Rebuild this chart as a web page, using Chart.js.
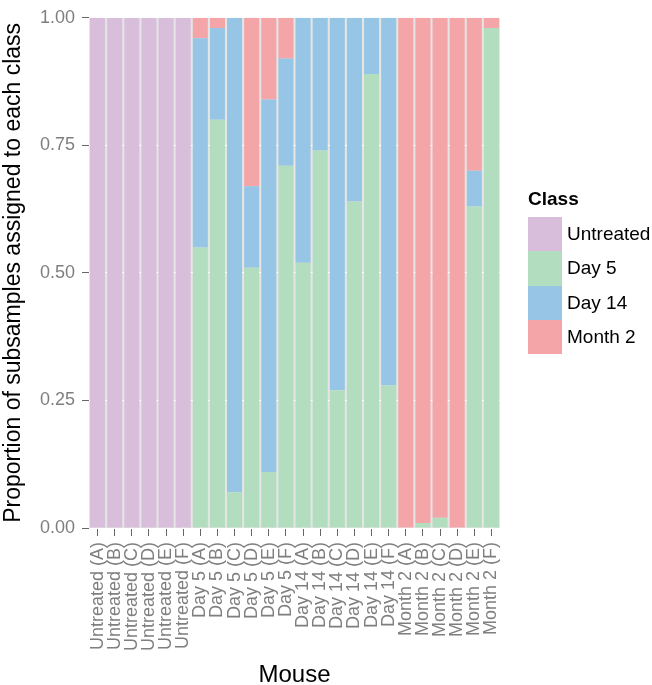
<!DOCTYPE html>
<html>
<head>
<meta charset="utf-8">
<script src="https://cdn.jsdelivr.net/npm/chart.js@4/dist/chart.umd.min.js"></script>
<style>
  html, body { margin: 0; padding: 0; background: #fff; }
  #wrap { position: relative; width: 652px; height: 685px; }
  #legend { position: absolute; left: 528px; top: 187px; font-family: "Liberation Sans", Arial, sans-serif; }
  #legend .title { font-weight: bold; font-size: 19px; color: #000; height: 30px; line-height: 24px; }
  #legend .row { display: flex; align-items: center; height: 34.3px; }
  #legend .sw { width: 34px; height: 34.3px; margin-right: 5px; }
  #legend .lab { font-size: 19px; color: #000; }
</style>
</head>
<body>
<div id="wrap">
  <canvas id="c" width="652" height="685"></canvas>
  <div id="legend"></div>
</div>
<script>
const mice = [
  "Untreated (A)","Untreated (B)","Untreated (C)","Untreated (D)","Untreated (E)","Untreated (F)",
  "Day 5 (A)","Day 5 (B)","Day 5 (C)","Day 5 (D)","Day 5 (E)","Day 5 (F)",
  "Day 14 (A)","Day 14 (B)","Day 14 (C)","Day 14 (D)","Day 14 (E)","Day 14 (F)",
  "Month 2 (A)","Month 2 (B)","Month 2 (C)","Month 2 (D)","Month 2 (E)","Month 2 (F)"
];
const classNames = ["Untreated", "Day 5", "Day 14", "Month 2"];
const classColors = ["#D9BEDB", "#B3DDBF", "#96C5E5", "#F4A5A7"];

const untreated = [1,1,1,1,1,1, 0,0,0,0,0,0, 0,0,0,0,0,0, 0,0,0,0,0,0];
const day5      = [0,0,0,0,0,0, 0.55,0.80,0.07,0.51,0.11,0.71, 0.52,0.74,0.27,0.64,0.89,0.28, 0,0.01,0.02,0,0.63,0.98];
const day14     = [0,0,0,0,0,0, 0.41,0.18,0.93,0.16,0.73,0.21, 0.48,0.26,0.73,0.36,0.11,0.72, 0,0,0,0,0.07,0];
const month2    = [0,0,0,0,0,0, 0.04,0.02,0,0.33,0.16,0.08, 0,0,0,0,0,0, 1,0.99,0.98,1,0.30,0.02];
const yTicks = [0, 0.25, 0.5, 0.75, 1];

const seriesValues = [untreated, day5, day14, month2];
const FONT = "'Liberation Sans', Arial, sans-serif";

const panelBg = {
  id: 'panelBg',
  beforeDraw(chart) {
    const { ctx, chartArea: a } = chart;
    ctx.save();
    ctx.fillStyle = '#E5E5E5';
    ctx.fillRect(a.left, a.top, a.right - a.left, a.bottom - a.top);
    ctx.restore();
  }
};

new Chart(document.getElementById('c'), {
  type: 'bar',
  data: {
    labels: mice,
    datasets: classNames.map((n, i) => ({
      label: n,
      data: seriesValues[i],
      backgroundColor: classColors[i],
      borderWidth: 0,
      categoryPercentage: 1.0,
      barPercentage: 0.88
    }))
  },
  options: {
    responsive: false,
    animation: false,
    layout: { padding: { top: 17, right: 152, left: 0, bottom: 0 } },
    plugins: { legend: { display: false }, tooltip: { enabled: false } },
    scales: {
      x: {
        stacked: true,
        offset: true,
        grid: { offset: false, color: '#FFFFFF', lineWidth: 1, tickColor: '#666666', tickLength: 8, drawOnChartArea: true },
        border: { display: false },
        ticks: {
          autoSkip: false, minRotation: 90, maxRotation: 90,
          color: '#7F7F7F', font: { family: FONT, size: 18 }, padding: 6
        },
        title: { display: true, text: 'Mouse', color: '#000', font: { family: FONT, size: 24 }, padding: { top: 0, bottom: -5 } },
        afterFit(s) { s.height = 157; }
      },
      y: {
        stacked: true,
        min: 0, max: 1,
        afterBuildTicks(s) { s.ticks = yTicks.map(v => ({ value: v })); },
        grid: { color: '#FFFFFF', lineWidth: 1, tickColor: '#666666', tickLength: 7 },
        border: { display: false },
        ticks: {
          color: '#7F7F7F', font: { family: FONT, size: 18 }, padding: 7,
          callback: v => Number(v).toFixed(2)
        },
        title: { display: true, text: 'Proportion of subsamples assigned to each class', color: '#000', font: { family: FONT, size: 23 }, padding: { top: 0, bottom: 2 } },
        afterFit(s) { s.width = 89; }
      }
    }
  },
  plugins: [panelBg]
});

const lg = document.getElementById('legend');
const t = document.createElement('div'); t.className = 'title'; t.textContent = 'Class'; lg.appendChild(t);
classNames.forEach((n, i) => {
  const r = document.createElement('div'); r.className = 'row';
  const sw = document.createElement('div'); sw.className = 'sw'; sw.style.background = classColors[i];
  const lb = document.createElement('div'); lb.className = 'lab'; lb.textContent = n;
  r.appendChild(sw); r.appendChild(lb); lg.appendChild(r);
});
</script>
</body>
</html>
